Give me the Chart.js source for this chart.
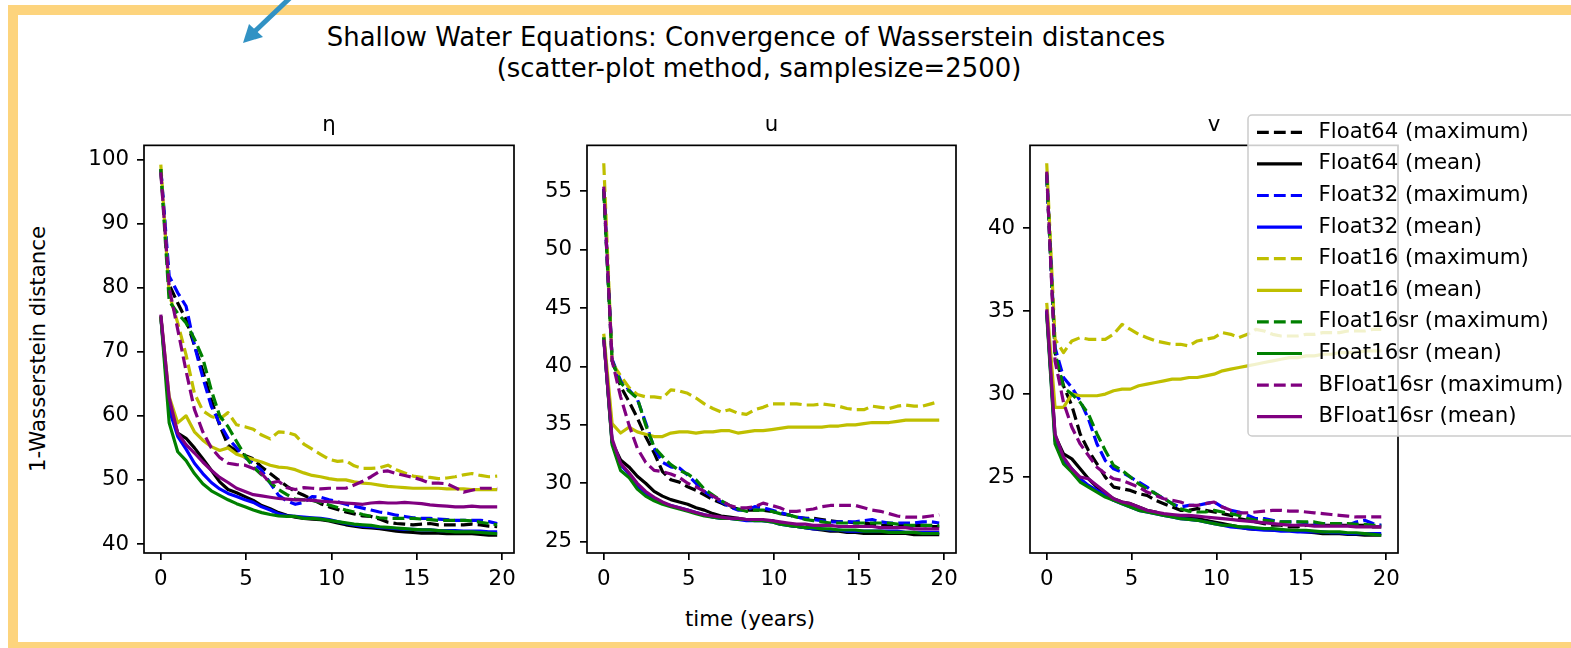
<!DOCTYPE html>
<html>
<head>
<meta charset="utf-8">
<script src="https://cdn.jsdelivr.net/npm/chart.js@4.4.1/dist/chart.umd.min.js"></script>
<style>
body{margin:0;background:#fff;width:1571px;height:648px;overflow:hidden;position:relative;font-family:"DejaVu Sans",sans-serif;color:#000}
#frame{position:absolute;left:8px;top:5px;width:1600px;height:647px;border:10.5px solid #fdd47d;box-sizing:border-box}
canvas{position:absolute}
.txt{position:absolute;white-space:nowrap}
.sup{width:1000px;text-align:center;font-size:25.9px;line-height:31px}
#sup1{left:246px;top:22px}
#sup2{left:259px;top:53px}
#xlabel{left:550px;width:400px;top:606px;text-align:center;font-size:21.3px;line-height:26px}
#ylabel{left:-162px;width:400px;top:336px;text-align:center;font-size:21.3px;line-height:26px;transform:rotate(-90deg)}
#arrow{position:absolute;left:0;top:0}
</style>
</head>
<body>
<div id="frame"></div>
<div class="txt sup" id="sup1">Shallow Water Equations: Convergence of Wasserstein distances</div>
<div class="txt sup" id="sup2">(scatter-plot method, samplesize=2500)</div>
<div class="txt" id="xlabel">time (years)</div>
<div class="txt" id="ylabel">1-Wasserstein distance</div>
<canvas id="c1" width="445" height="503" style="left:84px;top:100px"></canvas>
<canvas id="c2" width="444" height="503" style="left:527px;top:100px"></canvas>
<canvas id="c3" width="601" height="503" style="left:970px;top:100px"></canvas>
<svg id="arrow" width="400" height="80">
  <line x1="292" y1="-4" x2="252" y2="34" stroke="#3192c4" stroke-width="5"/>
  <polygon points="243,43 249,24 263,37" fill="#3192c4"/>
</svg>
<script>
// DATA
const times=[0,0.49,0.99,1.48,1.97,2.46,2.96,3.45,3.94,4.44,4.93,5.42,5.91,6.41,6.90,7.39,7.88,8.38,8.87,9.36,9.86,
  10.35,10.84,11.33,11.83,12.32,12.81,13.31,13.80,14.29,14.78,15.28,15.77,16.26,16.76,17.25,17.74,18.23,18.73,19.22,19.71];

const xTicks=[0,5,10,15,20];
const etaTicks=[40,50,60,70,80,90,100];
const uTicks=[25,30,35,40,45,50,55];
const vTicks=[25,30,35,40];

const labels=["Float64 (maximum)","Float64 (mean)","Float32 (maximum)","Float32 (mean)","Float16 (maximum)",
  "Float16 (mean)","Float16sr (maximum)","Float16sr (mean)","BFloat16sr (maximum)","BFloat16sr (mean)"];
const colors=["#000000","#000000","#0000ff","#0000ff","#bfbf00","#bfbf00","#008000","#008000","#800080","#800080"];
const dashed=[true,false,true,false,true,false,true,false,true,false];

// eta
const etaF64Max=[98.5,80.5,77.6,75.0,71.0,67.0,62.5,58.5,55.4,54.5,53.8,53.3,52.0,51.0,50.0,49.0,48.2,47.6,47.0,46.3,45.8,45.4,45.0,44.7,44.4,44.3,43.9,43.4,43.2,43.1,43.0,43.1,43.2,43.0,43.0,43.0,43.0,43.1,43.0,42.8,42.7];
const etaF64Mean=[75.5,62.0,57.3,56.5,55.0,53.3,51.5,49.7,48.5,48.0,47.4,46.8,46.0,45.5,44.9,44.5,44.2,44.0,43.9,43.8,43.6,43.3,43.0,42.8,42.6,42.5,42.4,42.2,42.0,41.9,41.8,41.7,41.7,41.7,41.6,41.6,41.6,41.6,41.5,41.4,41.4];
const etaF32Max=[98.5,81.8,79.2,77.1,71.0,66.0,61.5,58.8,56.5,55.0,53.5,52.6,51.5,49.5,47.6,46.7,46.2,46.5,47.4,47.3,46.9,46.6,46.2,45.9,45.6,45.3,45.0,44.8,44.5,44.3,44.1,44.0,44.0,43.9,43.8,43.7,43.7,43.7,43.7,43.5,43.2];
const etaF32Mean=[75.5,61.0,56.8,54.8,52.6,51.0,49.6,48.6,47.9,47.4,46.9,46.5,45.8,45.3,44.7,44.4,44.3,44.2,44.1,44.0,43.8,43.5,43.2,43.0,42.8,42.7,42.6,42.5,42.4,42.3,42.3,42.2,42.2,42.1,42.1,42.1,42.0,42.0,42.0,41.9,41.9];
const etaF16Max=[99.2,79.0,74.5,69.5,63.5,60.8,59.9,59.5,60.5,58.6,58.3,57.9,57.0,56.4,57.5,57.4,57.0,55.6,54.8,54.0,53.2,52.9,53.0,52.2,51.8,51.8,51.9,52.3,51.6,51.1,50.6,50.4,50.4,50.2,50.3,50.5,50.8,51.0,50.7,50.5,50.6];
const etaF16Mean=[75.5,63.0,58.9,60.0,57.5,56.2,55.2,54.6,55.0,54.0,53.6,53.2,52.8,52.3,52.0,51.9,51.6,51.1,50.7,50.5,50.2,50.0,50.0,49.7,49.5,49.4,49.2,49.0,48.9,48.8,48.7,48.7,48.7,48.7,48.6,48.6,48.6,48.5,48.5,48.5,48.5];
const etaF16srMax=[98.5,77.9,76.0,74.5,72.0,69.0,64.0,60.0,58.3,56.0,53.8,52.0,50.8,49.6,48.5,47.7,47.0,46.9,46.8,46.5,46.1,45.7,45.3,45.0,44.6,44.3,44.1,44.0,44.0,44.0,44.0,43.9,43.8,43.7,43.7,43.7,43.7,43.6,43.4,43.2,43.0];
const etaF16srMean=[75.5,58.9,54.4,53.0,51.0,49.4,48.3,47.6,46.9,46.3,45.8,45.3,44.9,44.6,44.4,44.3,44.3,44.0,44.0,43.9,43.7,43.5,43.3,43.1,43.0,42.9,42.7,42.6,42.5,42.4,42.3,42.2,42.2,42.1,42.0,41.9,41.9,41.9,41.8,41.7,41.6];
const etaBF16srMax=[98.0,80.0,73.5,67.0,61.0,57.5,55.0,53.5,52.6,52.4,52.3,51.8,51.0,49.5,49.8,48.8,48.5,48.8,48.7,48.6,48.7,48.7,48.7,49.2,49.8,50.5,51.3,51.4,51.0,50.7,50.4,50.0,49.5,49.5,49.4,48.8,48.1,48.4,48.7,48.7,48.7];
const etaBF16srMean=[75.8,62.8,57.3,55.5,54.2,52.8,51.5,50.4,49.6,48.7,48.2,47.7,47.5,47.3,47.1,47.0,46.9,46.9,46.8,46.7,46.6,46.5,46.4,46.3,46.2,46.4,46.5,46.4,46.4,46.5,46.4,46.3,46.1,46.0,45.9,45.8,45.8,45.9,45.8,45.8,45.8];

// u
const uF64Max=[55.2,40.5,38.3,37.0,35.6,34.0,32.6,31.0,30.3,30.1,29.7,29.4,29.0,28.6,28.3,28.0,27.8,27.7,27.7,27.7,27.6,27.4,27.3,27.1,27.0,27.0,26.9,26.8,26.7,26.7,26.6,26.6,26.5,26.4,26.4,26.4,26.4,26.4,26.4,26.3,26.3];
const uF64Mean=[42.5,33.5,32.0,31.4,30.6,30.0,29.3,28.9,28.6,28.4,28.2,27.9,27.7,27.4,27.2,27.1,27.0,26.9,26.9,26.8,26.8,26.6,26.4,26.3,26.2,26.1,26.0,25.9,25.9,25.8,25.8,25.7,25.7,25.7,25.7,25.7,25.7,25.6,25.6,25.6,25.6];
const uF32Max=[55.2,40.6,38.8,38.0,37.2,35.2,33.0,31.8,31.4,31.3,30.7,30.0,29.3,28.8,28.4,28.0,27.7,27.7,28.0,27.9,27.7,27.5,27.3,27.1,27.0,26.9,26.8,26.7,26.7,26.7,26.7,26.8,26.9,26.7,26.6,26.6,26.6,26.6,26.7,26.7,26.6];
const uF32Mean=[42.5,33.5,31.6,30.8,29.8,29.1,28.6,28.3,28.1,27.9,27.7,27.5,27.3,27.1,27.0,27.0,26.9,26.8,26.8,26.8,26.7,26.5,26.4,26.3,26.2,26.1,26.1,26.0,26.0,25.9,25.9,25.9,25.9,25.9,25.9,25.9,25.8,25.8,25.8,25.8,25.8];
const uF16Max=[57.4,40.3,39.2,38.2,37.6,37.4,37.4,37.3,38.0,37.9,37.7,37.3,36.8,36.4,36.1,36.3,36.0,35.9,36.3,36.5,36.8,36.8,36.8,36.8,36.7,36.7,36.8,36.7,36.6,36.4,36.3,36.3,36.6,36.5,36.4,36.6,36.7,36.6,36.6,36.8,37.0];
const uF16Mean=[42.8,35.1,34.3,34.8,34.4,34.2,34.0,34.0,34.3,34.4,34.4,34.3,34.4,34.4,34.5,34.5,34.3,34.4,34.5,34.5,34.6,34.7,34.8,34.8,34.8,34.8,34.8,34.9,34.9,35.0,35.0,35.1,35.2,35.2,35.2,35.3,35.4,35.4,35.4,35.4,35.4];
const uF16srMax=[55.0,40.5,38.6,37.9,37.3,35.0,33.1,32.3,31.6,31.1,30.8,30.3,29.5,29.0,28.5,28.1,27.8,27.6,27.7,27.7,27.6,27.4,27.3,27.1,26.9,26.8,26.7,26.6,26.6,26.6,26.6,26.6,26.6,26.6,26.6,26.5,26.4,26.4,26.4,26.4,26.4];
const uF16srMean=[42.5,33.3,31.1,30.5,29.5,28.9,28.5,28.2,28.0,27.8,27.6,27.4,27.2,27.1,27.0,27.0,26.9,26.9,26.8,26.8,26.7,26.5,26.4,26.3,26.2,26.2,26.1,26.1,26.0,26.0,26.0,25.9,25.9,25.9,25.8,25.8,25.8,25.8,25.7,25.7,25.7];
const uBF16srMax=[55.4,40.5,37.4,35.0,33.0,31.8,31.1,31.0,30.8,30.5,30.0,29.7,29.3,28.9,28.5,28.1,27.9,27.9,28.0,28.3,28.1,27.9,27.6,27.6,27.7,27.8,28.0,28.1,28.1,28.1,28.1,27.9,27.7,27.6,27.4,27.2,27.1,27.1,27.1,27.2,27.3];
const uBF16srMean=[42.3,33.8,31.7,30.9,30.0,29.3,28.8,28.4,28.1,27.9,27.7,27.5,27.3,27.2,27.1,27.0,27.0,26.9,26.9,26.9,26.8,26.7,26.6,26.5,26.5,26.4,26.4,26.4,26.3,26.3,26.3,26.3,26.3,26.2,26.2,26.2,26.2,26.1,26.1,26.1,26.1];

// v
const vF64Max=[43.2,32.5,30.5,29.3,27.6,26.6,25.8,25.0,24.4,24.3,24.2,24.0,23.9,23.6,23.4,23.2,23.0,23.0,23.1,23.0,22.9,22.8,22.7,22.5,22.4,22.3,22.2,22.1,22.1,22.0,22.0,22.1,22.1,22.1,22.1,22.1,22.1,22.1,22.1,22.0,22.0];
const vF64Mean=[35.0,27.5,26.4,26.1,25.5,24.9,24.4,24.0,23.7,23.5,23.4,23.2,23.0,22.9,22.7,22.7,22.6,22.55,22.5,22.4,22.3,22.2,22.1,22.0,21.9,21.85,21.85,21.8,21.8,21.8,21.75,21.7,21.65,21.6,21.6,21.6,21.55,21.55,21.5,21.5,21.5];
const vF32Max=[43.2,32.8,31.0,30.4,29.6,28.5,27.0,26.0,25.5,25.3,25.0,24.7,24.4,24.0,23.7,23.4,23.2,23.3,23.3,23.4,23.5,23.2,23.0,22.9,22.7,22.5,22.5,22.4,22.3,22.3,22.3,22.25,22.2,22.2,22.2,22.2,22.1,22.3,22.4,22.2,22.1];
const vF32Mean=[35.0,27.2,26.0,25.5,24.9,24.5,24.2,23.9,23.6,23.4,23.2,23.0,22.9,22.8,22.7,22.6,22.5,22.45,22.4,22.3,22.2,22.1,22.0,21.95,21.9,21.85,21.8,21.8,21.75,21.75,21.7,21.7,21.7,21.7,21.65,21.65,21.6,21.6,21.6,21.6,21.6];
const vF16Max=[43.9,33.3,32.5,33.2,33.4,33.3,33.3,33.3,33.6,34.2,33.9,33.6,33.4,33.2,33.1,33.0,33.0,32.9,33.2,33.3,33.4,33.7,33.6,33.4,33.6,33.9,33.8,33.6,33.5,33.5,33.5,33.6,33.6,33.7,33.7,33.7,33.8,33.8,33.8,33.9,33.9];
const vF16Mean=[35.5,29.2,29.2,30.0,29.9,29.9,29.9,30.0,30.2,30.3,30.3,30.5,30.6,30.7,30.8,30.9,30.9,31.0,31.0,31.1,31.2,31.4,31.5,31.6,31.7,31.8,31.9,32.0,32.1,32.2,32.2,32.3,32.3,32.4,32.4,32.5,32.5,32.5,32.6,32.6,32.6];
const vF16srMax=[43.3,32.5,30.4,30.0,29.5,28.8,27.6,26.6,25.7,25.4,25.0,24.6,24.3,24.0,23.7,23.4,23.1,22.95,22.9,22.9,23.0,22.9,22.8,22.7,22.5,22.4,22.4,22.35,22.3,22.3,22.3,22.3,22.3,22.2,22.2,22.2,22.2,22.15,22.15,22.1,22.1];
const vF16srMean=[34.8,27.0,25.8,25.3,24.7,24.4,24.1,23.8,23.6,23.4,23.2,23.0,22.9,22.8,22.7,22.6,22.5,22.45,22.4,22.3,22.2,22.1,22.1,22.0,22.0,21.95,21.9,21.9,21.85,21.8,21.8,21.8,21.75,21.7,21.7,21.7,21.65,21.65,21.6,21.55,21.5];
const vBF16srMax=[43.4,32.0,29.5,28.0,27.0,26.3,25.6,25.2,24.9,24.8,24.6,24.4,24.1,23.9,23.7,23.6,23.5,23.3,23.3,23.4,23.5,23.2,23.0,22.85,22.85,22.9,22.95,23.0,23.0,22.95,22.95,22.9,22.85,22.8,22.75,22.7,22.65,22.6,22.6,22.6,22.6];
const vBF16srMean=[35.1,27.6,26.2,25.5,25.0,24.9,24.5,24.1,23.7,23.5,23.4,23.2,23.0,22.9,22.8,22.75,22.7,22.7,22.65,22.6,22.55,22.5,22.45,22.4,22.35,22.3,22.25,22.2,22.15,22.1,22.1,22.1,22.05,22.05,22.05,22.05,22.05,22.0,22.0,22.0,22.0];

// PANELS
const FONT='"DejaVu Sans", sans-serif';
const panels=[
  {id:"c1",title:"η",yTicks:etaTicks,yMin:38.6,yMax:102.2,padRight:15,
   series:[etaF64Max,etaF64Mean,etaF32Max,etaF32Mean,etaF16Max,etaF16Mean,etaF16srMax,etaF16srMean,etaBF16srMax,etaBF16srMean]},
  {id:"c2",title:"u",yTicks:uTicks,yMin:24.03,yMax:58.93,padRight:15,
   series:[uF64Max,uF64Mean,uF32Max,uF32Mean,uF16Max,uF16Mean,uF16srMax,uF16srMean,uBF16srMax,uBF16srMean]},
  {id:"c3",title:"v",yTicks:vTicks,yMin:20.43,yMax:44.98,padRight:173,legend:true,
   series:[vF64Max,vF64Mean,vF32Max,vF32Mean,vF16Max,vF16Mean,vF16srMax,vF16srMean,vBF16srMax,vBF16srMean]}
];

// axes box on top of the lines
const boxPlugin={id:'box',afterDatasetsDraw(c){
  const a=c.chartArea,ctx=c.ctx;
  ctx.save();
  ctx.strokeStyle='#000';ctx.lineWidth=1.7;
  ctx.strokeRect(a.left,a.top,a.right-a.left,a.bottom-a.top);
  ctx.restore();
}};

// legend drawn over the third axes (semi transparent like matplotlib)
const legendPlugin={id:'leg',afterDraw(c){
  if(!c.options.plugins.leg) return;
  const ctx=c.ctx,ds=c.data.datasets;
  const x=278,y=15,w=330,h=321;
  ctx.save();
  ctx.beginPath();
  ctx.roundRect(x,y,w,h,4);
  ctx.fillStyle='rgba(255,255,255,0.8)';
  ctx.fill();
  ctx.strokeStyle='#cccccc';ctx.lineWidth=1.5;
  ctx.stroke();
  ctx.font='21.3px '+FONT;
  ctx.textBaseline='middle';
  ds.forEach((d,i)=>{
    const ry=32.3+i*31.6;
    ctx.beginPath();
    ctx.setLineDash(d.borderDash);
    ctx.strokeStyle=d.borderColor;ctx.lineWidth=3.2;
    ctx.moveTo(287,ry);ctx.lineTo(332,ry);
    ctx.stroke();
    ctx.setLineDash([]);
    ctx.fillStyle='#000';
    ctx.fillText(d.label,348.5,ry);
  });
  ctx.restore();
}};

function makeChart(p){
  return new Chart(document.getElementById(p.id),{
    type:'line',
    data:{datasets:p.series.map((vals,i)=>({
      label:labels[i],
      data:times.map((t,j)=>({x:t,y:vals[j]})),
      borderColor:colors[i],
      borderWidth:3.2,
      borderDash:dashed[i]?[11.8,5.1]:[],
      borderJoinStyle:'round',
      pointRadius:0,
      tension:0,
      order:labels.length-i
    }))},
    options:{
      responsive:false,animation:false,
      layout:{padding:{left:0,right:p.padRight,top:0,bottom:0}},
      plugins:{
        legend:{display:false},tooltip:{enabled:false},
        title:{display:true,text:p.title,fullSize:false,color:'#000',
          font:{family:FONT,size:21.3,weight:'normal'},padding:{top:13,bottom:6.8}},
        leg:p.legend?{}:false
      },
      scales:{
        x:{type:'linear',min:-0.985,max:20.695,
          afterBuildTicks:s=>{s.ticks=xTicks.map(v=>({value:v}))},
          afterFit:s=>{s.height=50},
          ticks:{color:'#000',font:{family:FONT,size:21.3},padding:7,maxRotation:0},
          grid:{drawOnChartArea:false,color:'#000',tickLength:7,lineWidth:1.7},
          border:{display:false}},
        y:{min:p.yMin,max:p.yMax,
          afterBuildTicks:s=>{s.ticks=p.yTicks.map(v=>({value:v}))},
          afterFit:s=>{s.width=60},
          ticks:{color:'#000',font:{family:FONT,size:21.3},padding:8},
          grid:{drawOnChartArea:false,color:'#000',tickLength:7,lineWidth:1.7},
          border:{display:false}}
      }
    },
    plugins:[boxPlugin,legendPlugin]
  });
}

panels.forEach(makeChart);
</script>
</body>
</html>
